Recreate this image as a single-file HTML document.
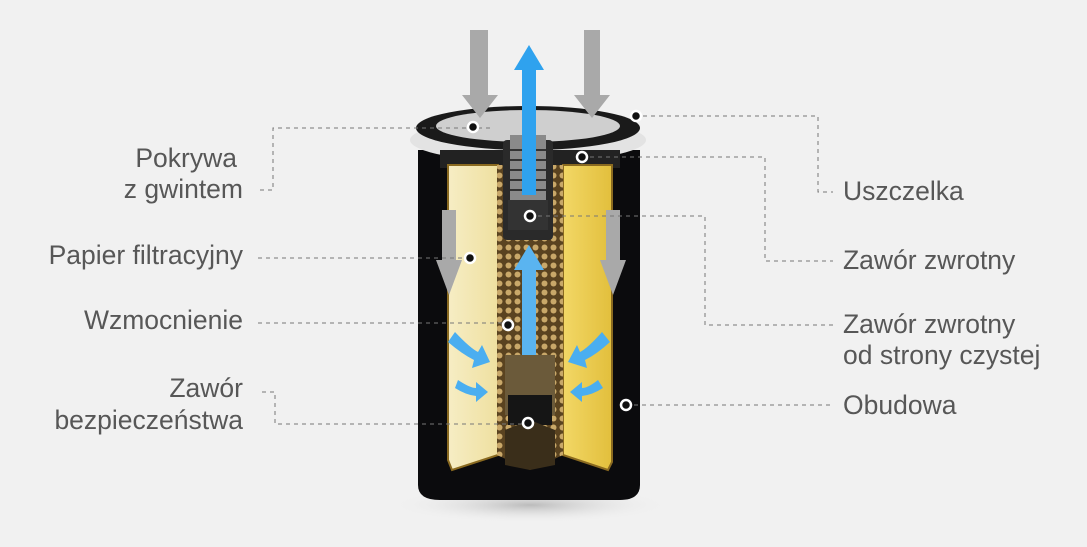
<!DOCTYPE html>
<html><head><meta charset="utf-8"><style>
html,body{margin:0;padding:0;background:#f1f1f1;}
svg{display:block}
text{font-family:"Liberation Sans",sans-serif;font-size:26.5px;fill:#575757}
</style></head><body>
<svg width="1087" height="547" viewBox="0 0 1087 547" xmlns="http://www.w3.org/2000/svg">
<defs>
<linearGradient id="pl" x1="0" x2="1"><stop offset="0" stop-color="#f6edc4"/><stop offset="1" stop-color="#efe0a0"/></linearGradient>
<linearGradient id="pr" x1="0" x2="1"><stop offset="0" stop-color="#f2d766"/><stop offset="1" stop-color="#e2bf3c"/></linearGradient>
<pattern id="mesh" width="9" height="9" patternUnits="userSpaceOnUse"><rect width="9" height="9" fill="#5a4320"/><circle cx="4.5" cy="4.5" r="3" fill="#c9a869"/></pattern>
<radialGradient id="sh" cx="0.5" cy="0.5" r="0.5"><stop offset="0" stop-color="#bbb"/><stop offset="1" stop-color="#f1f1f1" stop-opacity="0"/></radialGradient>
</defs>
<ellipse cx="530" cy="505" rx="140" ry="18" fill="url(#sh)"/>
<path d="M418 150 L640 150 L640 485 Q640 500 620 500 L440 500 Q418 500 418 485 Z" fill="#0b0b0d"/>
<ellipse cx="528" cy="140" rx="118" ry="22" fill="#e3e3e3"/>
<ellipse cx="528" cy="128" rx="112" ry="22" fill="#1a1a1a"/>
<ellipse cx="528" cy="126" rx="92" ry="16" fill="#cfcfcf"/>
<rect x="440" y="150" width="180" height="18" fill="#222"/>
<path d="M448 165 L498 165 L498 455 L452 470 L448 460 Z" fill="url(#pl)" stroke="#8a6a20" stroke-width="2"/>
<path d="M563 165 L612 165 L612 462 L608 470 L563 455 Z" fill="url(#pr)" stroke="#8a6a20" stroke-width="2"/>
<path d="M497 165 L563 165 L563 455 L530 470 L497 455 Z" fill="url(#mesh)"/>
<rect x="503" y="140" width="50" height="100" rx="4" fill="#2a2a2a"/>
<rect x="510" y="135" width="36" height="95" fill="#8a8a8a"/>
<g stroke="#333" stroke-width="2">
<line x1="510" y1="150" x2="546" y2="150"/><line x1="510" y1="160" x2="546" y2="160"/><line x1="510" y1="170" x2="546" y2="170"/><line x1="510" y1="180" x2="546" y2="180"/><line x1="510" y1="190" x2="546" y2="190"/></g>
<rect x="508" y="200" width="40" height="30" fill="#333"/>
<rect x="505" y="355" width="50" height="60" fill="#6b5a3a"/>
<rect x="508" y="395" width="44" height="30" fill="#151515"/>
<path d="M505 430 L530 420 L555 430 L555 465 L530 470 L505 465Z" fill="#3a2e1a"/>
<path d="M522 195 L522 70 L514 70 L529 45 L544 70 L536 70 L536 195 Z" fill="#2fa2ee"/>
<path d="M522 355 L522 270 L514 270 L529 245 L544 270 L536 270 L536 355 Z" fill="#5ab4f0"/>
<path d="M455 332 Q470 348 478 352 L482 345 L490 362 L472 368 L474 360 Q462 354 448 342 Z" fill="#4aaef0"/>
<path d="M458 380 Q470 388 476 388 L476 382 L488 392 L476 402 L476 396 Q466 395 455 388 Z" fill="#4aaef0"/>
<path d="M602 332 Q588 348 580 352 L577 345 L568 362 L587 368 L585 360 Q597 354 610 342 Z" fill="#4aaef0"/>
<path d="M598 380 Q588 388 582 388 L582 382 L570 392 L582 402 L582 396 Q592 395 603 388 Z" fill="#4aaef0"/>
<path d="M470 30 L488 30 L488 95 L498 95 L480 118 L462 95 L470 95 Z" fill="#a9a9a9"/>
<path d="M584 30 L600 30 L600 95 L610 95 L592 118 L574 95 L584 95 Z" fill="#a9a9a9"/>
<path d="M442 210 L456 210 L456 260 L462 260 L449 295 L436 260 L442 260 Z" fill="#a9a9a9"/>
<path d="M606 210 L620 210 L620 260 L626 260 L613 295 L600 260 L606 260 Z" fill="#a9a9a9"/>
<g fill="none" stroke="#777" stroke-width="1" stroke-dasharray="4,4">
<path d="M260 190 L273 190 L273 128 L490 128"/>
<path d="M258 258 L470 258"/>
<path d="M258 323 L508 323"/>
<path d="M262 392 L275 392 L275 424 L528 424"/>
<path d="M635 116 L818 116 L818 192 L833 192"/>
<path d="M582 157 L765 157 L765 261 L833 261"/>
<path d="M530 216 L705 216 L705 325 L833 325"/>
<path d="M626 405 L833 405"/>
</g>
<g fill="#111" stroke="#fff" stroke-width="2.5">
<circle cx="473" cy="127" r="5"/><circle cx="636" cy="116" r="5"/><circle cx="582" cy="157" r="5"/>
<circle cx="530" cy="216" r="5"/><circle cx="470" cy="258" r="5"/><circle cx="508" cy="325" r="5"/>
<circle cx="626" cy="405" r="5"/><circle cx="528" cy="423" r="5"/>
</g>
<g text-anchor="end">
<text x="237" y="167">Pokrywa</text>
<text x="243" y="198">z gwintem</text>
<text x="243" y="264">Papier filtracyjny</text>
<text x="243" y="329">Wzmocnienie</text>
<text x="243" y="397">Zawór</text>
<text x="243" y="429">bezpieczeństwa</text>
</g>
<text x="843" y="200">Uszczelka</text>
<text x="843" y="269">Zawór zwrotny</text>
<text x="843" y="333">Zawór zwrotny</text>
<text x="843" y="364">od strony czystej</text>
<text x="843" y="414">Obudowa</text>
</svg>
</body></html>
